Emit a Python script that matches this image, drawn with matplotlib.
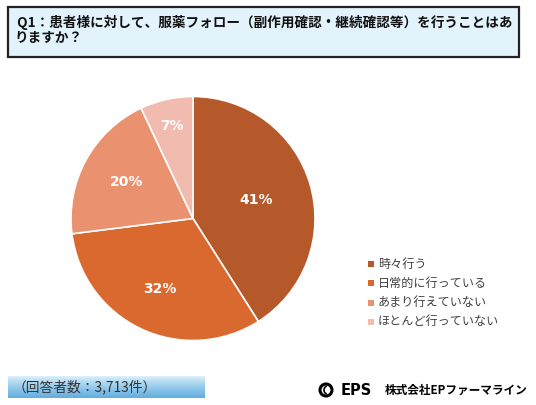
import matplotlib.pyplot as plt
import numpy as np
from matplotlib.patches import Rectangle, Circle, Arc

plt.rcParams['font.family'] = ['Noto Sans CJK JP', 'DejaVu Sans']

# data
labels = ["時々行う", "日常的に行っている", "あまり行えていない", "ほとんど行っていない"]
values = [41, 32, 20, 7]
colors = ["#B5582A", "#D9692E", "#EA916F", "#F2BBB0"]
label_r = [0.54, 0.64, 0.62, 0.78]
title = " Q1：患者様に対して、服薬フォロー（副作用確認・継続確認等）を行うことはあ\nりますか？"
note = "（回答者数：3,713件）"

W, H = 536, 405
fig = plt.figure(figsize=(W / 100, H / 100), dpi=100)
fig.patch.set_facecolor("white")

# background axes in pixel coordinates
bg = fig.add_axes([0, 0, 1, 1])
bg.set_xlim(0, W)
bg.set_ylim(H, 0)
bg.axis("off")

bg.add_patch(Rectangle((8, 7), 511, 50, facecolor="#E3F3FC", edgecolor="#222222", lw=1.6))
bg.text(14, 15, title, fontsize=9.8, fontweight="bold", va="top", ha="left",
        color="#111111", linespacing=1.08)

# footer gradient bar
grad = np.linspace(0, 1, 50).reshape(-1, 1)
top = np.array([0.88, 0.95, 0.99])
bot = np.array([0.38, 0.68, 0.88])
img = top + (bot - top) * grad[:, :, None] ** 0.8
bg.imshow(img, extent=(8, 205, 398, 376), aspect="auto", zorder=1)
bg.text(13, 387, note, fontsize=9.9, va="center", ha="left", color="#333333", zorder=2)

# logo
bg.add_patch(Circle((326, 390), 6, facecolor="none", edgecolor="black", lw=2.2))
bg.add_patch(Arc((327.5, 390), 7, 8, theta1=100, theta2=260, edgecolor="black", lw=1.2))
bg.text(341, 390.5, "EPS", fontsize=10.5, fontweight="bold", va="center", ha="left",
        family=["DejaVu Sans"])
bg.text(385, 390.5, "株式会社EPファーマライン", fontsize=8.4, fontweight="bold",
        va="center", ha="left")

# legend
for i, (lab, c) in enumerate(zip(labels, colors)):
    y = 264 + i * 19.3
    bg.add_patch(Rectangle((368, y - 3), 6, 6, facecolor=c, edgecolor="none"))
    bg.text(378, y, lab, fontsize=8.7, va="center", ha="left", color="#404040")

# pie
cx, cy, r = 193, 218.5, 122
ax = fig.add_axes([(cx - r) / W, (H - cy - r) / H, 2 * r / W, 2 * r / H])
wedges, _ = ax.pie(values, colors=colors, startangle=90, counterclock=False,
                   wedgeprops=dict(edgecolor="white", linewidth=1.2))
ax.set_xlim(-1, 1)
ax.set_ylim(-1, 1)
for w, v, lr in zip(wedges, values, label_r):
    ang = np.deg2rad((w.theta1 + w.theta2) / 2)
    ax.text(lr * np.cos(ang), lr * np.sin(ang), f"{v}%", ha="center", va="center",
            color="white", fontsize=10, fontweight="bold", family=["DejaVu Sans"])

fig.savefig("out.png", dpi=100)
